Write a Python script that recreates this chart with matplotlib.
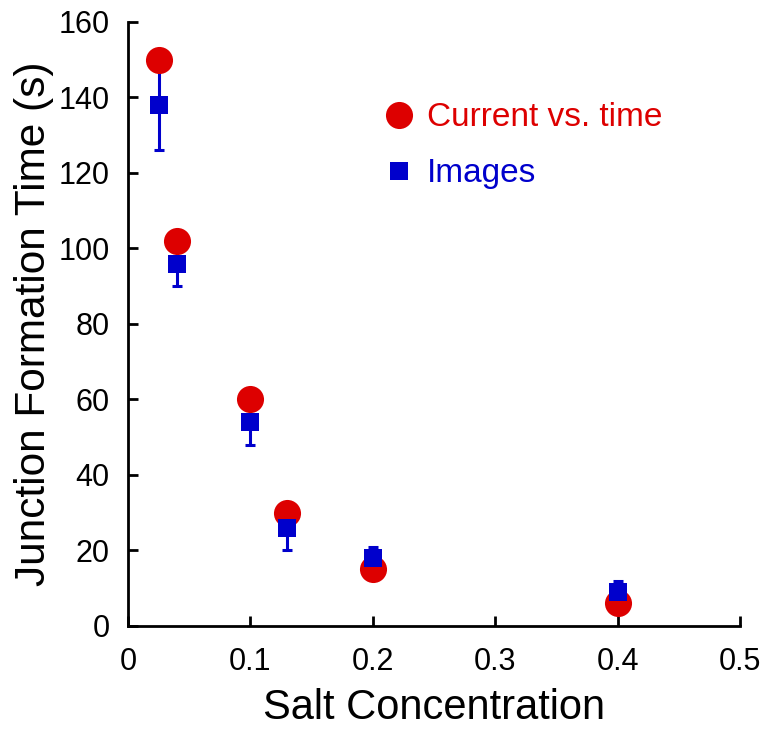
import matplotlib.pyplot as plt

plt.rcParams['font.family'] = ['Liberation Sans', 'DejaVu Sans']

# salt concentration values
salt = [0.025, 0.04, 0.1, 0.13, 0.2, 0.4]
current_time = [150, 102, 60, 30, 15, 6]   # from current vs. time
image_time = [138, 96, 54, 26, 18, 9]      # from images
image_err = [12, 6, 6, 6, 3, 3]

red = '#dd0000'
blue = '#0000cc'

fig = plt.figure(figsize=(7.66, 7.29), dpi=100)
ax = fig.add_axes([0.167, 0.1413, 0.799, 0.8287])

# error bars go under the markers
ax.errorbar(salt, image_time, yerr=image_err, fmt='none', ecolor=blue,
            elinewidth=2.2, capsize=3.5, capthick=2.2, zorder=1)
ax.plot(salt, current_time, 'o', color=red, markersize=19.5,
        markeredgewidth=0, label='Current vs. time', zorder=2)
ax.plot(salt, image_time, 's', color=blue, markersize=13,
        markeredgewidth=0, label='Images', zorder=3)

ax.set_xlim(0, 0.5)
ax.set_ylim(0, 160)
ax.set_xticks([0, 0.1, 0.2, 0.3, 0.4, 0.5])
ax.set_xticklabels(['0', '0.1', '0.2', '0.3', '0.4', '0.5'])
ax.set_yticks(range(0, 161, 20))

ax.spines['top'].set_visible(False)
ax.spines['right'].set_visible(False)
ax.spines['left'].set_linewidth(2)
ax.spines['bottom'].set_linewidth(2)
ax.tick_params(direction='in', length=7.5, width=2, labelsize=22)
ax.tick_params(axis='x', pad=15)
ax.tick_params(axis='y', pad=13)

ax.set_xlabel('Salt Concentration', fontsize=30, labelpad=8)
ax.set_ylabel('Junction Formation Time (s)', fontsize=30.5, labelpad=3)

leg = ax.legend(loc='upper left', bbox_to_anchor=(0.415, 0.867), frameon=False,
                borderpad=0, borderaxespad=0,
                fontsize=24, labelcolor='linecolor', handlelength=1.0,
                handletextpad=0.35, labelspacing=0.75)

fig.savefig('out.png', dpi=100)
